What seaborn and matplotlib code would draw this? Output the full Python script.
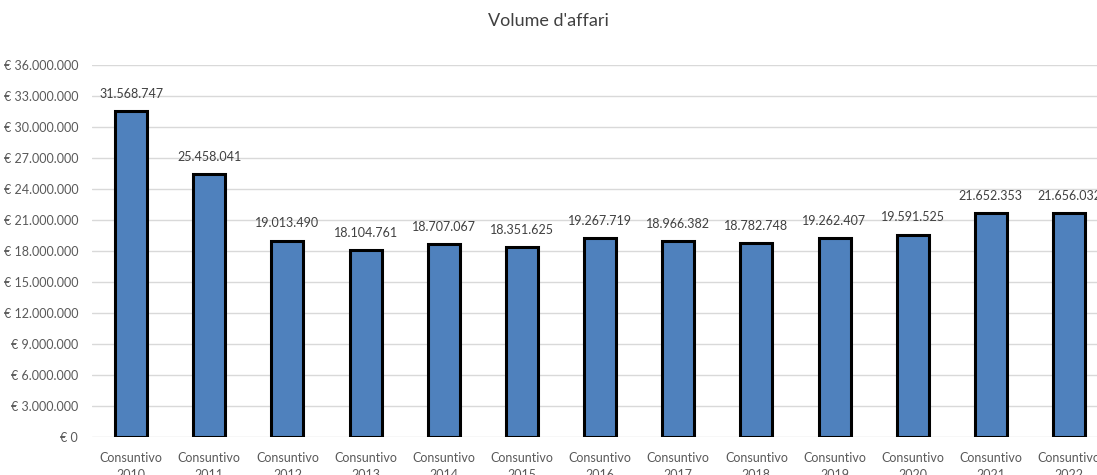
import pandas as pd
import matplotlib.pyplot as plt
import seaborn as sns
from matplotlib.ticker import FuncFormatter, MultipleLocator

# Data
anni = ['2010', '2011', '2012', '2013', '2014', '2015', '2016',
        '2017', '2018', '2019', '2020', '2021', '2022']
categorie = ['Consuntivo\n' + a for a in anni]
volume = [31568747, 25458041, 19013490, 18104761, 18707067, 18351625, 19267719,
          18966382, 18782748, 19262407, 19591525, 21652353, 21656032]

df = pd.DataFrame({'categoria': categorie, 'volume': volume})


def it_num(v):
    return f'{int(round(v)):,}'.replace(',', '.')


sns.set_style('white')
plt.rcParams['font.family'] = ['Lato', 'DejaVu Sans']

fig = plt.figure(figsize=(10.97, 4.75), dpi=100)
ax = fig.add_axes([0.0839, 0.08, 0.9262, 0.7832])

sns.barplot(x='categoria', y='volume', data=df, ax=ax, color='#4f81bd',
            saturation=1, width=0.41, edgecolor='black', linewidth=2.2)

ax.set_xlim(-0.5, len(anni) - 0.5)
ax.set_ylim(0, 36e6)
ax.yaxis.set_major_locator(MultipleLocator(3e6))
ax.yaxis.set_major_formatter(FuncFormatter(lambda v, p: '€ ' + it_num(v)))
ax.grid(axis='y', color='#d9d9d9', linewidth=1)
ax.set_axisbelow(True)
for s in ax.spines.values():
    s.set_visible(False)

ax.tick_params(axis='both', length=0, labelsize=9, labelcolor='#595959')
ax.tick_params(axis='y', pad=10)
ax.tick_params(axis='x', pad=11)
for lbl in ax.get_xticklabels():
    lbl.set_linespacing(1.45)
ax.set_xlabel('')
ax.set_ylabel('')

for i, v in enumerate(volume):
    ax.annotate(it_num(v), (i, v), xytext=(0, 8), textcoords='offset points',
                ha='center', va='bottom', fontsize=9, color='#404040')

fig.text(0.5, 0.955, "Volume d'affari", ha='center', va='center',
         fontsize=13, color='#404040')

fig.savefig('out.png', dpi=100)
